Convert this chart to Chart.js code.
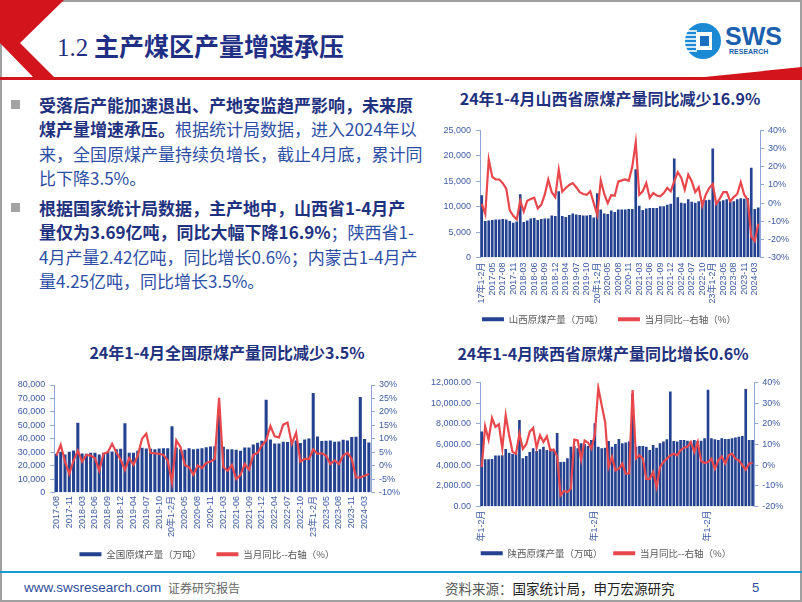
<!DOCTYPE html>
<html>
<head>
<meta charset="utf-8">
<script src="https://cdn.jsdelivr.net/npm/chart.js@4.4.1/dist/chart.umd.min.js"></script>
<style>
  html, body { margin: 0; padding: 0; background: #fff; }
  body { width: 802px; height: 602px; position: relative; overflow: hidden;
         font-family: "Noto Sans CJK SC", "Liberation Sans", sans-serif; }
  .frame { position: absolute; left: 0; top: 0; width: 798px; height: 598px; border: 2px solid #a0a0a0; }
  .head-title { position: absolute; left: 57px; top: 28px; font-size: 25px; font-weight: 700;
                color: #1f2f86; white-space: nowrap; line-height: 34px; }
  .head-title .num { font-family: "Liberation Serif", serif; font-weight: 400; }
  .line { position: absolute; left: 39px; font-size: 17px; line-height: 24.5px; white-space: nowrap; color: #2d4ea5; }
  .line b { color: #1f3280; font-weight: 700; }
  .bullet { position: absolute; left: 11px; width: 9px; height: 9px; background: #a3a3a3; }
  .ctitle { position: absolute; font-size: 16px; font-weight: 700; color: #1f3280; white-space: nowrap;
            transform: translateX(-50%); line-height: 20px; }
  canvas { position: absolute; }
  .foot { position: absolute; top: 579px; white-space: nowrap; line-height: 18px; }
</style>
</head>
<body>
<div class="frame"></div>

<svg width="802" height="82" style="position:absolute;left:0;top:0">
  <polygon points="0,0 64,0 20,43 55,78 34,78 0,43" fill="#d2141c"/>
  <rect x="0" y="77" width="802" height="3" fill="#d2141c"/>
  <polygon points="675,80 802,67 802,80" fill="#d2141c"/>
  <circle cx="703" cy="41" r="18" fill="#1a8ad4"/>
  <g stroke="#fff" stroke-width="1.6">
    <line x1="686" y1="31" x2="697" y2="31"/>
    <line x1="685" y1="35" x2="697" y2="35"/>
    <line x1="685" y1="39" x2="697" y2="39"/>
    <line x1="685" y1="43" x2="697" y2="43"/>
    <line x1="685" y1="47" x2="697" y2="47"/>
    <line x1="686" y1="51" x2="697" y2="51"/>
  </g>
  <rect x="696" y="32" width="16" height="18" fill="#fff"/>
  <rect x="700" y="36" width="9" height="10" fill="#1a6fc0"/>
  <text x="725" y="45" font-family="Liberation Sans, sans-serif" font-weight="700" font-size="25" fill="#1b5fae">SWS</text>
  <text x="729" y="54" font-family="Liberation Sans, sans-serif" font-weight="700" font-size="7" fill="#1b5fae">RESEARCH</text>
</svg>
<div class="head-title"><span class="num">1.2</span> 主产煤区产量增速承压</div>

<div class="bullet" style="top:100px"></div>
<div class="line" style="top:92.75px"><b>受落后产能加速退出、产地安监趋严影响，未来原</b></div>
<div class="line" style="top:117.25px"><b>煤产量增速承压。</b>根据统计局数据，进入2024年以</div>
<div class="line" style="top:141.75px">来，全国原煤产量持续负增长，截止4月底，累计同</div>
<div class="line" style="top:166.25px">比下降3.5%。</div>
<div class="bullet" style="top:203px"></div>
<div class="line" style="top:195.75px"><b>根据国家统计局数据，主产地中，山西省1-4月产</b></div>
<div class="line" style="top:220.25px"><b>量仅为3.69亿吨，同比大幅下降16.9%</b>；陕西省1-</div>
<div class="line" style="top:244.75px">4月产量2.42亿吨，同比增长0.6%；内蒙古1-4月产</div>
<div class="line" style="top:269.25px">量4.25亿吨，同比增长3.5%。</div>

<div class="ctitle" style="left:610px;top:88px">24年1-4月山西省原煤产量同比减少16.9%</div>
<div class="ctitle" style="left:227px;top:342px">24年1-4月全国原煤产量同比减少3.5%</div>
<div class="ctitle" style="left:603px;top:343px">24年1-4月陕西省原煤产量同比增长0.6%</div>

<canvas id="shanxiChart" width="382" height="222" style="left:418px;top:112px;width:382px;height:222px"></canvas>
<canvas id="nationalChart" width="402" height="199" style="left:6px;top:370px;width:402px;height:199px"></canvas>
<canvas id="shaanxiChart" width="388" height="200" style="left:412px;top:368px;width:388px;height:200px"></canvas>

<div style="position:absolute;left:0;top:571px;width:802px;height:2px;background:#1c9ad6"></div>
<div class="foot" style="left:24px;font-family:'Liberation Sans',sans-serif;font-size:13.5px;color:#2b4c9b">www.swsresearch.com</div>
<div class="foot" style="left:168px;font-size:12px;color:#666">证券研究报告</div>
<div class="foot" style="left:445px;font-size:13.5px;color:#555">资料来源：<span style="color:#222">国家统计局，申万宏源研究</span></div>
<div class="foot" style="left:752px;font-family:'Liberation Sans',sans-serif;font-size:13px;color:#2b4c9b">5</div>

<script>
const months = [
  "17年1-2月", "2017-03", "2017-04", "2017-05", "2017-06", "2017-07", "2017-08", "2017-09", "2017-10", "2017-11", "2017-12",
  "18年1-2月", "2018-03", "2018-04", "2018-05", "2018-06", "2018-07", "2018-08", "2018-09", "2018-10", "2018-11", "2018-12",
  "19年1-2月", "2019-03", "2019-04", "2019-05", "2019-06", "2019-07", "2019-08", "2019-09", "2019-10", "2019-11", "2019-12",
  "20年1-2月", "2020-03", "2020-04", "2020-05", "2020-06", "2020-07", "2020-08", "2020-09", "2020-10", "2020-11", "2020-12",
  "21年1-2月", "2021-03", "2021-04", "2021-05", "2021-06", "2021-07", "2021-08", "2021-09", "2021-10", "2021-11", "2021-12",
  "22年1-2月", "2022-03", "2022-04", "2022-05", "2022-06", "2022-07", "2022-08", "2022-09", "2022-10", "2022-11", "2022-12",
  "23年1-2月", "2023-03", "2023-04", "2023-05", "2023-06", "2023-07", "2023-08", "2023-09", "2023-10", "2023-11", "2023-12",
  "24年1-2月", "2024-03", "2024-04"
];
// 全国序列从 2017-08 开始
const nationalMonths = months.slice(6);

// 山西原煤产量（万吨）与当月同比（%）
const shanxiOutput = [
  12200, 7100, 7200, 7300, 7400, 7400, 7500, 7400, 7100, 6800, 7000,
  12400, 6900, 7200, 7600, 7700, 7300, 7500, 7600, 7600, 8200, 8100,
  13000, 8100, 7900, 8300, 8600, 8400, 8300, 8200, 8200, 8300, 7800,
  12600, 9400, 8600, 8500, 9200, 8900, 9400, 9400, 9400, 9500, 9500,
  17300, 10100, 9300, 9600, 9700, 9700, 9700, 10000, 10000, 10300, 10500,
  19400, 11800, 10700, 10600, 11400, 10900, 10700, 11000, 11200, 11200, 11300,
  21400, 11000, 11000, 11200, 11400, 10900, 11000, 11400, 11600, 11500, 11600,
  17600, 9500, 9800
];
const shanxiYoy = [
  -0.5, -6, 24, 14.5, 13, 13, 11, 8, -4, -7, -9,
  1.3, -4.6, 1.3, 2.2, 3, -3, -1, 4.6, 13, 6, 3.3,
  18.4, 6.3, 8.3, 10, 11, 8.7, 6, 5, 4.6, 6.5, 0,
  -6.5, 12.5, 5, 0, 4.4, 4, 11.8, 12.5, 13, 12.3, 20,
  33.5, 4.6, 6.5, 11, 2.8, 5.5, 4.2, 3.7, 5.5, 8.3, 6.5,
  12, 17, 14, 7.4, 15.7, 12, 6, 8.7, -1.5, 4.6, 8.3,
  10.5, -0.4, 2.4, 6, 6, 1, 3.3, 5, 11.5, 4.6, 1.8,
  -18.5, -21, -11.4
];

// 全国原煤产量（万吨）与当月同比（%）
const nationalOutput = [
  28600, 30000, 28000, 30000, 31000,
  51750, 28750, 28500, 29250, 29250, 28000, 29250, 30250, 30250, 32000, 32250,
  51250, 29250, 29250, 30750, 33000, 32500, 32250, 32000, 32500, 32750, 32750,
  49000, 33250, 32000, 31500, 32750, 32000, 32250, 32750, 33500, 34000, 34250,
  61800, 33750, 32000, 32000, 31500, 30750, 33250, 33250, 35500, 36750, 38250,
  68750, 39250, 36250, 36250, 37500, 37250, 38250, 38500, 36500, 39250, 40000,
  73750, 41500, 38000, 38250, 38500, 37500, 37750, 39000, 38500, 41000, 41250,
  70750, 39500, 37000
];
const nationalYoy = [
  3.75, 7.75, 1.5, -3.1, 1.9,
  5.6, 1.5, 4, 3.75, 2.75, -1.9, 4.4, 5, 8.1, 5, 2.25,
  -1.6, 2.75, 0.25, 3.75, 10, 11.9, 4.75, 4.6, 4.4, 4, 1.9,
  -6.25, 9.4, 6.9, 0.25, -0.6, -3.4, 0, -0.9, 1, 1.5, 2.5,
  25.25, -0.6, -1.9, 0.25, -5, -3.5, 0.6, -1.5, 4, 4.75, 7.5,
  9.4, 14.75, 10.9, 10.5, 15.25, 16, 8.1, 12.25, 1.5, 2.5, 2.5,
  6, 4.4, 4.6, 3.75, 0.6, 1.9, 0.6, 3.75, 4.75, 2.5, -4.4,
  -4.4, -3.75, -3.1
];

// 陕西原煤产量（万吨）与当月同比（%）
const shaanxiOutput = [
  7230, 4540, 4540, 4570, 4900, 4900, 4930, 5540, 5190, 5060, 5120,
  8360, 4640, 4860, 5250, 5610, 5350, 5510, 5770, 5450, 5580, 5350,
  7100, 4280, 4310, 4640, 5770, 5830, 5610, 6090, 6030, 5830, 6420,
  8040, 5770, 5610, 5670, 6320, 5770, 6030, 6520, 6090, 6160, 6260,
  10900, 5770, 5840, 5840, 5770, 5450, 5930, 5670, 6090, 6260, 6480,
  11120, 6320, 6260, 6420, 6420, 6350, 6290, 6420, 6320, 6350, 6580,
  11280, 6580, 6480, 6420, 6580, 6520, 6520, 6580, 6650, 6740, 6810,
  11350, 6420, 6420
];
const shaanxiYoy = [
  -0.9, 18.9, 12.4, 22.9, 18.6, 19.9, 8.1, 24.3, 14.5, 6.4, 5.6,
  15.3, 7.9, 10.2, 16.2, 18.1, 8.5, 14.5, 11.3, 14, 7.2, 7.6,
  4.3, -14.6, -12.5, -13, -11.4, 12.4, 12, 2.7, 12, 11, 8,
  15, 37.5, 29, 21, -0.9, 4, -2.5, -1.7, 0.8, -4.1, -4,
  36.4, 3.2, 4.8, 3.2, -6.6, -6.6, -3.3, -10.6, -0.9, 1.6, 3.2,
  4.8, 5.6, 4.8, 7.2, 8.5, 8.9, 11.3, 6.4, 11.3, 2, 1.1,
  1.6, 3.2, -1.7, 2.4, 4.3, 0.8, 4.8, 5.6, 3.2, 2.4, 0,
  -2.2, 0.8, 1.1
];

const BAR = "#24428f";
const RED = "#e8474c";
const AXIS = "#8fa6d6";
const TICK = "#3d5ba3";
const TICK_FONT = { family: "'Liberation Sans', 'Noto Sans CJK SC', sans-serif", size: 9 };

function thousands(v) {
  return Number(v).toLocaleString("en-US");
}

function comboChart(id, cfg) {
  return new Chart(document.getElementById(id), {
    data: {
      labels: cfg.labels,
      datasets: [
        {
          type: "bar",
          label: cfg.barLabel,
          data: cfg.bars,
          backgroundColor: BAR,
          borderWidth: 0,
          barThickness: cfg.barWidth,
          yAxisID: "y",
          order: 1
        },
        {
          type: "line",
          label: "当月同比--右轴（%）",
          data: cfg.yoy,
          borderColor: RED,
          backgroundColor: RED,
          borderWidth: 2.2,
          pointRadius: 0,
          tension: 0,
          yAxisID: "y1",
          order: 0
        }
      ]
    },
    options: {
      responsive: false,
      animation: false,
      devicePixelRatio: 1,
      layout: { padding: { top: cfg.padTop, left: 0, right: 0, bottom: 0 } },
      plugins: {
        tooltip: { enabled: false },
        legend: {
          position: "bottom",
          labels: {
            boxWidth: 22,
            boxHeight: 4,
            padding: cfg.legendPad,
            color: "#595959",
            font: { family: "'Noto Sans CJK SC', sans-serif", size: 9.5 },
            sort: (a, b) => a.datasetIndex - b.datasetIndex,
            // 第一项后面补一个全角空格，拉开两项间距
            generateLabels: (chart) =>
              Chart.defaults.plugins.legend.labels.generateLabels(chart).map((l) => ({
                ...l,
                lineWidth: 0,
                text: l.datasetIndex === 0 ? l.text + "\u3000" : l.text
              }))
          }
        }
      },
      scales: {
        x: {
          grid: { display: false, drawTicks: false },
          border: { display: false },
          ticks: {
            autoSkip: false,
            minRotation: 90,
            maxRotation: 90,
            padding: cfg.xPad,
            color: TICK,
            font: TICK_FONT,
            callback: cfg.xLabel
          },
          afterFit: (s) => { s.height = cfg.xHeight; }
        },
        y: {
          position: "left",
          min: cfg.leftMin,
          max: cfg.leftMax,
          grid: { drawOnChartArea: false, tickLength: 4, color: AXIS },
          border: { color: AXIS },
          ticks: { autoSkip: false, stepSize: cfg.leftStep, padding: 5, color: TICK, font: TICK_FONT, callback: cfg.leftFmt },
          afterFit: (s) => { s.width = cfg.leftW; }
        },
        y1: {
          position: "right",
          min: cfg.rightMin,
          max: cfg.rightMax,
          grid: { drawOnChartArea: false, tickLength: 4, color: AXIS },
          border: { color: AXIS },
          ticks: { autoSkip: false, stepSize: cfg.rightStep, padding: 4, color: TICK, font: TICK_FONT, callback: (v) => v + "%" },
          afterFit: (s) => { s.width = cfg.rightW; }
        }
      }
    }
  });
}

comboChart("shanxiChart", {
  labels: months,
  bars: shanxiOutput,
  yoy: shanxiYoy,
  barLabel: "山西原煤产量（万吨）",
  barWidth: 2,
  padTop: 18.5,
  xHeight: 47.5,
  xPad: 5,
  legendPad: 9.5,
  leftW: 62,
  rightW: 40,
  leftMin: 0, leftMax: 25000, leftStep: 5000, leftFmt: thousands,
  rightMin: -30, rightMax: 40, rightStep: 10,
  xLabel: (v, i) => (i % 3 === 0 ? months[i] : "")
});

comboChart("nationalChart", {
  labels: nationalMonths,
  bars: nationalOutput,
  yoy: nationalYoy,
  barLabel: "全国原煤产量（万吨）",
  barWidth: 2.4,
  padTop: 15,
  xHeight: 46.5,
  xPad: 3.5,
  legendPad: 10.5,
  leftW: 48.3,
  rightW: 37,
  leftMin: 0, leftMax: 80000, leftStep: 10000, leftFmt: thousands,
  rightMin: -10, rightMax: 30, rightStep: 5,
  xLabel: (v, i) => (i % 3 === 0 ? nationalMonths[i] : "")
});

comboChart("shaanxiChart", {
  labels: months,
  bars: shaanxiOutput,
  yoy: shaanxiYoy,
  barLabel: "陕西原煤产量（万吨）",
  barWidth: 2,
  padTop: 14.7,
  xHeight: 36,
  xPad: 4,
  legendPad: 6,
  leftW: 68,
  rightW: 45.7,
  leftMin: 0, leftMax: 12000, leftStep: 2000,
  leftFmt: (v) => Number(v).toLocaleString("en-US", { minimumFractionDigits: 2, maximumFractionDigits: 2 }),
  rightMin: -20, rightMax: 40, rightStep: 10,
  xLabel: (v, i) => (i % 33 === 0 ? months[i].slice(2) : "")
});
</script>
</body>
</html>
